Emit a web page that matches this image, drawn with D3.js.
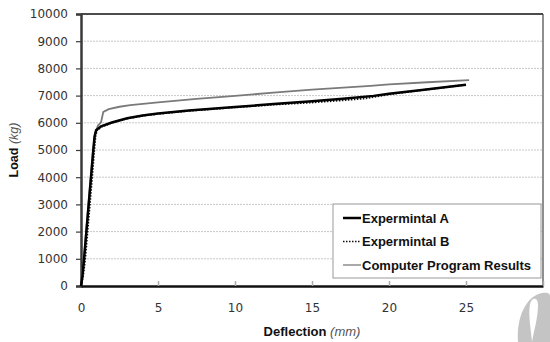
<!DOCTYPE html>
<html><head><meta charset="utf-8">
<script src="https://cdn.jsdelivr.net/npm/d3@7"></script>
<style>body{margin:0;background:#fff}svg{display:block}</style>
</head><body><svg id="c" width="550" height="342"></svg>
<script>
const xTicks = [0,5,10,15,20,25,30];
const yTicks = [0,1000,2000,3000,4000,5000,6000,7000,8000,9000,10000];
const seriesNames = ["Expermintal A","Expermintal B","Computer Program Results"];
const expA = [[0,0],[0.1,400],[0.2,1000],[0.35,2000],[0.5,3000],[0.65,4000],[0.8,5000],[0.88,5500],[0.98,5730],[1.3,5870],[2,6010],[3,6170],[4,6270],[5,6340],[7,6450],[10,6580],[12.5,6690],[15,6790],[17,6880],[19,6990],[20,7070],[22,7200],[25,7400]];
const expB = [[0,0],[0.13,350],[0.27,1000],[0.42,2000],[0.57,3000],[0.72,4000],[0.86,5000],[0.94,5500],[1.03,5720],[1.35,5860],[2,6000],[3,6160],[4,6260],[5,6330],[7,6440],[10,6570],[12.5,6670],[15,6750],[17,6830],[18.5,6900],[20,7050],[22,7190],[24.8,7390]];
const comp = [[0,0],[0.08,500],[0.18,1000],[0.33,2000],[0.48,3000],[0.63,4000],[0.78,5000],[0.92,5600],[1.1,5900],[1.3,6020],[1.45,6400],[1.8,6500],[2.5,6590],[3.2,6650],[5,6750],[7.5,6880],[10,6990],[12.5,7110],[15,7220],[18.8,7360],[20,7410],[22.5,7490],[25.2,7570]];

const svg = d3.select("#c");
const x = d3.scaleLinear().domain([0,30]).range([81,543]);
const y = d3.scaleLinear().domain([0,10000]).range([286,14]);
const tickFont = "DejaVu Sans, Verdana, sans-serif";

// gridlines
svg.append("g").selectAll("line").data(yTicks.filter(d=>d>0 && d<10000)).join("line")
  .attr("x1",x(0)).attr("x2",x(30)).attr("y1",d=>y(d)).attr("y2",d=>y(d))
  .attr("stroke","#c8c8c8").attr("stroke-width",1).attr("stroke-dasharray","2,1");

// top & right border
svg.append("line").attr("x1",x(0)).attr("x2",x(30)).attr("y1",y(10000)).attr("y2",y(10000)).attr("stroke","#111").attr("stroke-width",1.5);
svg.append("line").attr("x1",x(30)).attr("x2",x(30)).attr("y1",y(10000)).attr("y2",y(0)).attr("stroke","#444").attr("stroke-width",1.2);

// y axis
const yAxis = svg.append("g").attr("transform",`translate(${x(0)},0)`)
  .call(d3.axisLeft(y).tickValues(yTicks).tickSize(5).tickPadding(8).tickFormat(d3.format("d")));
yAxis.select(".domain").attr("stroke","#3a3a3a").attr("stroke-width",2.5);
yAxis.selectAll(".tick line").attr("stroke","#3a3a3a").attr("stroke-width",1.2);
yAxis.selectAll("text").attr("font-family",tickFont).attr("font-size",12).attr("fill","#333");

// x axis
const xAxis = svg.append("g").attr("transform",`translate(0,${y(0)})`)
  .call(d3.axisBottom(x).tickValues(xTicks).tickSizeInner(-5).tickSizeOuter(0).tickPadding(17));
xAxis.select(".domain").attr("stroke","#111").attr("stroke-width",2.5);
xAxis.selectAll(".tick line").attr("stroke","#aaa").attr("stroke-width",1.5);
xAxis.selectAll("text").attr("font-family",tickFont).attr("font-size",12).attr("fill","#333");

// lines
const line = d3.line().x(d=>x(d[0])).y(d=>y(d[1]));
svg.append("path").datum(comp).attr("d",line).attr("fill","none").attr("stroke","#7a7a7a").attr("stroke-width",1.8);
svg.append("path").datum(expB).attr("d",line).attr("fill","none").attr("stroke","#111").attr("stroke-width",2).attr("stroke-dasharray","1.5,1.5");
svg.append("path").datum(expA).attr("d",line).attr("fill","none").attr("stroke","#000").attr("stroke-width",2.5);

// axis titles
const xt = svg.append("text").attr("x",312).attr("y",336).attr("text-anchor","middle")
  .attr("font-family","Liberation Sans, Arial, sans-serif").attr("font-size",13);
xt.append("tspan").attr("font-weight","bold").attr("fill","#111").text("Deflection ");
xt.append("tspan").attr("font-style","italic").attr("fill","#555").text("(mm)");
const yt = svg.append("text").attr("transform","translate(18,150) rotate(-90)").attr("text-anchor","middle")
  .attr("font-family","Liberation Sans, Arial, sans-serif").attr("font-size",12.5);
yt.append("tspan").attr("font-weight","bold").attr("fill","#111").text("Load ");
yt.append("tspan").attr("font-style","italic").attr("fill","#555").text("(kg)");

// legend
const lg = svg.append("g");
lg.append("rect").attr("x",333).attr("y",204).attr("width",208).attr("height",74)
  .attr("fill","#fff").attr("stroke","#999").attr("stroke-width",1);
const styles = [
  {stroke:"#000",w:2.5,dash:null},
  {stroke:"#111",w:1.5,dash:"1.5,1.5"},
  {stroke:"#7a7a7a",w:1.3,dash:null}
];
seriesNames.forEach((n,i)=>{
  const cy = 218 + i*23.5;
  lg.append("line").attr("x1",343).attr("x2",361).attr("y1",cy).attr("y2",cy)
    .attr("stroke",styles[i].stroke).attr("stroke-width",styles[i].w).attr("stroke-dasharray",styles[i].dash);
  lg.append("text").attr("x",362).attr("y",cy+4.5).attr("font-family","Liberation Sans, Arial, sans-serif")
    .attr("font-weight","bold").attr("font-size",13).attr("fill","#111").text(n);
});

// watermark
const wm = svg.append("g");
wm.append("path").attr("d","M518,342 C516,318 526,296 542,293 C548,292 550,294 550,296 L550,342 Z").attr("fill","#c4c4c4");
wm.append("path").attr("d","M532,342 C531,330 528,314 530,304 C532,297 538,297 538,305 C538,318 534,330 532,342 Z").attr("fill","#fff");
</script></body></html>
